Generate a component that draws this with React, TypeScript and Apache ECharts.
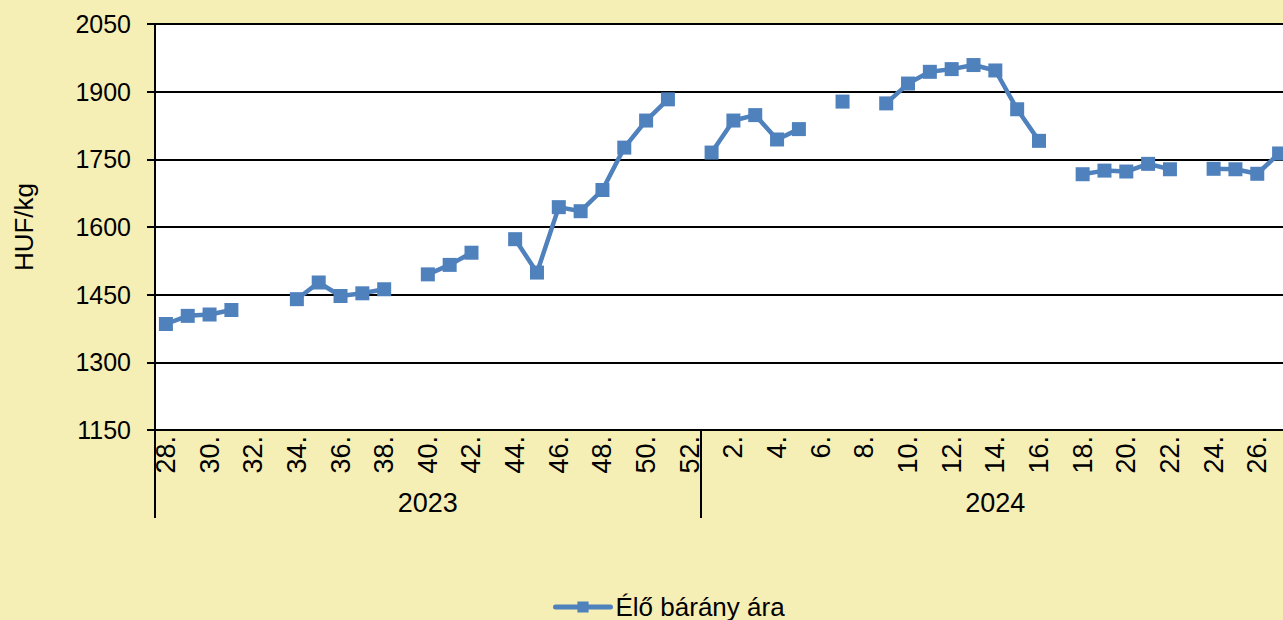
import React, { useEffect, useRef } from "react";
import * as echarts from "echarts";

const weeks2023 = ["28.", "29.", "30.", "31.", "32.", "33.", "34.", "35.", "36.", "37.", "38.", "39.", "40.", "41.", "42.", "43.", "44.", "45.", "46.", "47.", "48.", "49.", "50.", "51.", "52."];
const weeks2024 = ["1.", "2.", "3.", "4.", "5.", "6.", "7.", "8.", "9.", "10.", "11.", "12.", "13.", "14.", "15.", "16.", "17.", "18.", "19.", "20.", "21.", "22.", "23.", "24.", "25.", "26.", "27."];
const prices2023 = [1385, 1403, 1406, 1416, null, null, 1440, 1477, 1447, 1453, 1462, null, 1495, 1516, 1543, null, 1573, 1499, 1644, 1635, 1682, 1776, 1836, 1883, null];
const prices2024 = [1765, 1836, 1848, 1794, 1817, null, 1878, null, 1874, 1918, 1944, 1950, 1959, 1947, 1861, 1791, null, 1717, 1725, 1723, 1740, 1728, null, 1729, 1728, 1718, 1763];
const years = ["2023", "2024"];
const yTicks = [1150, 1300, 1450, 1600, 1750, 1900, 2050];
const seriesName = "Élő bárány ára";
const yName = "HUF/kg";

const FONT = "'Liberation Sans', Arial, sans-serif";

export default function App() {
  const ref = useRef<HTMLDivElement>(null);
  useEffect(() => {
    if (!ref.current) return;
    const chart = echarts.init(ref.current, null, { renderer: "svg" });
    const categories = [...weeks2023, ...weeks2024];
    const values = [...prices2023, ...prices2024];
    const yearAxisData = categories.map(() => "");
    yearAxisData[Math.floor(weeks2023.length / 2)] = years[0];
    yearAxisData[weeks2023.length + Math.floor(weeks2024.length / 2)] = years[1];
    const boundary = weeks2023.length;

    chart.setOption({
      animation: false,
      backgroundColor: "#F5EFB5",
      textStyle: { fontFamily: FONT },
      grid: {
        left: 155,
        top: 24,
        width: 1135,
        height: 406,
        show: true,
        backgroundColor: "#ffffff",
        borderWidth: 0,
      },
      legend: {
        left: 553,
        top: 594,
        padding: 0,
        itemWidth: 55,
        itemHeight: 14,
        lineStyle: { width: 5, cap: "round" },
        textStyle: { fontSize: 26, color: "#000", fontFamily: FONT },
        data: [seriesName],
      },
      xAxis: [
        {
          type: "category",
          data: categories,
          position: "bottom",
          boundaryGap: true,
          axisLine: { show: true, lineStyle: { color: "#000", width: 2 } },
          axisTick: { show: false },
          axisLabel: {
            interval: 1,
            rotate: 90,
            margin: 6,
            fontSize: 27,
            color: "#000",
            fontFamily: FONT,
          },
          splitLine: { show: false },
        },
        {
          type: "category",
          data: yearAxisData,
          position: "bottom",
          offset: 0,
          boundaryGap: true,
          axisLine: { show: false },
          axisTick: {
            show: true,
            length: 88,
            interval: (i: number) => i === 0 || i === boundary,
            lineStyle: { color: "#000", width: 2 },
          },
          axisLabel: {
            interval: 0,
            margin: 59,
            fontSize: 27,
            color: "#000",
            fontFamily: FONT,
          },
          splitLine: { show: false },
        },
      ],
      yAxis: {
        type: "value",
        min: yTicks[0],
        max: yTicks[yTicks.length - 1],
        name: yName,
        nameLocation: "middle",
        nameGap: 118,
        nameTextStyle: { fontSize: 26, color: "#000", fontFamily: FONT },
        axisLine: { show: true, lineStyle: { color: "#000", width: 2 } },
        axisTick: {
          show: true,
          length: 8,
          customValues: yTicks,
          lineStyle: { color: "#000", width: 2 },
        },
        axisLabel: {
          customValues: yTicks,
          formatter: (v: number) => String(v),
          margin: 24,
          fontSize: 25,
          color: "#000",
          fontFamily: FONT,
        },
        splitLine: { show: true, lineStyle: { color: "#000", width: 2 } },
      },
      series: [
        {
          name: seriesName,
          type: "line",
          xAxisIndex: 0,
          data: values,
          connectNulls: false,
          symbol: "rect",
          symbolSize: 14,
          itemStyle: { color: "#4F81BD" },
          lineStyle: { color: "#4F81BD", width: 4.5 },
        },
      ],
    });
    return () => chart.dispose();
  }, []);
  return (
    <div
      style={{
        position: "fixed",
        left: 0,
        top: 0,
        width: 1283,
        height: 620,
        overflow: "hidden",
      }}
    >
      <div ref={ref} style={{ width: 1310, height: 620 }} />
    </div>
  );
}
